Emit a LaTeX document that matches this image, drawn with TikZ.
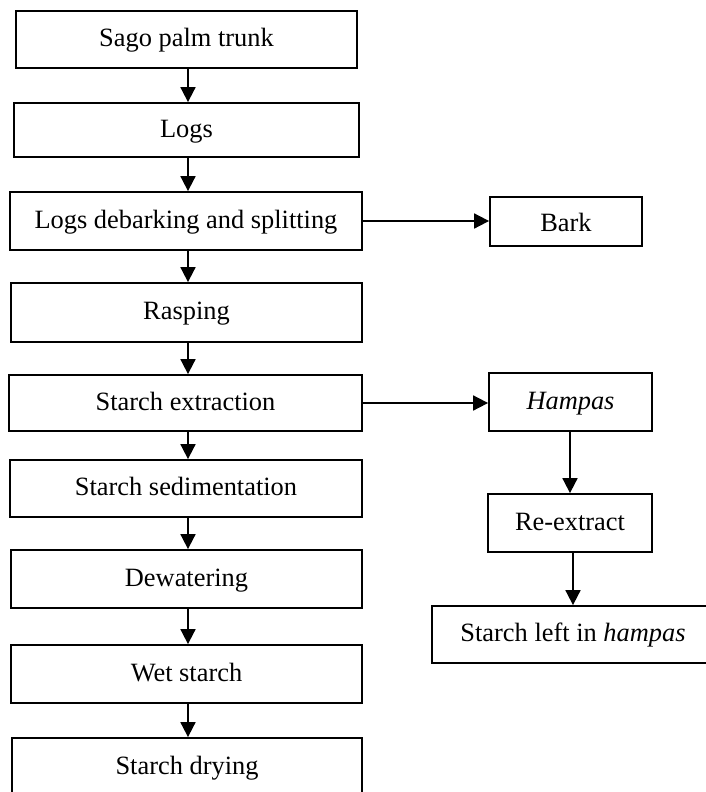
\documentclass[tikz,border=0pt]{standalone}
\usepackage{fontspec}
\setmainfont{Liberation Serif}
\usetikzlibrary{arrows.meta}
\begin{document}
\begin{tikzpicture}[x=1pt,y=-1pt,
  box/.style={draw=black,line width=1.8pt,rectangle,inner sep=0pt,align=center,
    font=\fontsize{26.4}{30}\selectfont,text height=19.8pt,text depth=5.8pt},
  arr/.style={draw=black,line width=1.8pt,-{Triangle[length=15pt,width=15pt]}}]
\useasboundingbox (0,0) rectangle (706,792);
\clip (0,0) rectangle (706,792);
\fill[white] (0,0) rectangle (706,792);
\coordinate (mx) at (188,0);
\node[box,minimum width=341pt,minimum height=57pt] (b1) at (186.5,39.5) {Sago palm trunk};
\node[box,minimum width=345pt,minimum height=54pt] (b2) at (186.5,130) {Logs};
\node[box,minimum width=352pt,minimum height=58pt] (b3) at (186,221) {Logs debarking and splitting};
\node[box,minimum width=351pt,minimum height=59pt] (b4) at (186.5,312.5) {Rasping};
\node[box,minimum width=353pt,minimum height=56pt] (b5) at (185.5,403) {Starch extraction};
\node[box,minimum width=352pt,minimum height=57pt] (b6) at (186,488.5) {Starch sedimentation};
\node[box,minimum width=351pt,minimum height=58pt] (b7) at (186.5,579) {Dewatering};
\node[box,minimum width=351pt,minimum height=58pt] (b8) at (186.5,674) {Wet starch};
\node[box,minimum width=350pt,minimum height=58pt] (b9) at (187,767) {Starch drying};
\node[box,text depth=0pt,minimum width=152pt,minimum height=49pt] (bark) at (566,221.5) {Bark};
\node[box,minimum width=163pt,minimum height=58pt] (hampas) at (570.5,402) {\itshape Hampas};
\node[box,minimum width=164pt,minimum height=58pt] (rex) at (570,523) {Re-extract};
\node[box,minimum width=282pt,minimum height=57pt] (left) at (573,634.5) {Starch left in \textit{hampas}};
\draw[arr] (b1.south -| mx) -- (b2.north -| mx);
\draw[arr] (b2.south -| mx) -- (b3.north -| mx);
\draw[arr] (b3.south -| mx) -- (b4.north -| mx);
\draw[arr] (b4.south -| mx) -- (b5.north -| mx);
\draw[arr] (b5.south -| mx) -- (b6.north -| mx);
\draw[arr] (b6.south -| mx) -- (b7.north -| mx);
\draw[arr] (b7.south -| mx) -- (b8.north -| mx);
\draw[arr] (b8.south -| mx) -- (b9.north -| mx);
\draw[arr] (b3.east) -- (b3.east -| bark.west);
\draw[arr] (b5.east) -- (b5.east -| hampas.west);
\draw[arr] (hampas.south -| rex.north) -- (rex.north);
\draw[arr] (rex.south -| left.north) -- (left.north);
\end{tikzpicture}
\end{document}
